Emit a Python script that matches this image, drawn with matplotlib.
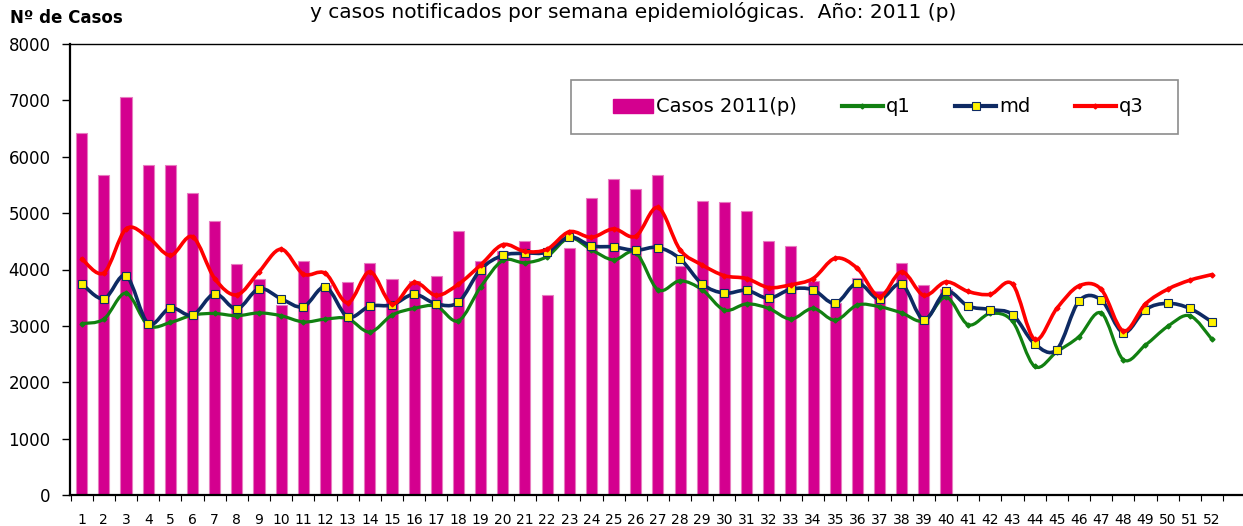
import numpy as np
import matplotlib
matplotlib.use("Agg")
import matplotlib.pyplot as plt
from matplotlib.path import Path
from matplotlib.patches import PathPatch, Rectangle, Patch
from matplotlib.lines import Line2D

# semanas epidemiologicas
weeks = list(range(1, 53))

# casos notificados 2011 (p), semanas 1-40
casos = [6420, 5680, 7060, 5860, 5860, 5350, 4860, 4090, 3840, 3370,
         4150, 3720, 3770, 4120, 3840, 3790, 3890, 4690, 4150, 4330,
         4500, 3540, 4390, 5260, 5600, 5420, 5670, 4060, 5210, 5190,
         5030, 4500, 4420, 3790, 3400, 3850, 3620, 4110, 3730, 3660]

q1 = [3040, 3120, 3580, 3010, 3060, 3190, 3220, 3180, 3230, 3180,
      3070, 3120, 3130, 2890, 3190, 3310, 3350, 3090, 3690, 4160,
      4120, 4230, 4560, 4350, 4170, 4300, 3640, 3800, 3640, 3280,
      3390, 3310, 3120, 3310, 3100, 3370, 3340, 3230, 3090, 3510,
      3020, 3220, 3080, 2280, 2540, 2810, 3230, 2400, 2660, 2990,
      3180, 2760]

md = [3750, 3480, 3890, 3040, 3320, 3190, 3570, 3300, 3660, 3480,
      3340, 3690, 3160, 3350, 3370, 3560, 3390, 3420, 4000, 4250,
      4290, 4310, 4580, 4420, 4400, 4340, 4390, 4190, 3740, 3580,
      3630, 3490, 3650, 3640, 3400, 3760, 3470, 3740, 3110, 3610,
      3350, 3290, 3200, 2680, 2580, 3440, 3460, 2880, 3290, 3400,
      3310, 3070]

q3 = [4190, 3940, 4720, 4570, 4250, 4580, 3840, 3550, 3960, 4360,
      3920, 3930, 3410, 3960, 3390, 3770, 3540, 3740, 4080, 4440,
      4320, 4360, 4670, 4570, 4720, 4590, 5100, 4350, 4080, 3890,
      3840, 3680, 3730, 3840, 4200, 4020, 3520, 3960, 3540, 3780,
      3610, 3560, 3740, 2760, 3310, 3710, 3650, 2910, 3390, 3650,
      3810, 3910]

ytick_vals = list(range(0, 8001, 1000))

title_txt = "y casos notificados por semana epidemiológicas.  Año: 2011 (p)"
ylabel_txt = "Nº de Casos"


def smooth_path(x, y):
    # curva tipo "linea suavizada" de Excel (Catmull-Rom -> Bezier)
    pts = np.column_stack([x, y]).astype(float)
    n = len(pts)
    verts = [pts[0]]
    codes = [Path.MOVETO]
    for i in range(n - 1):
        p0 = pts[max(i - 1, 0)]
        p1 = pts[i]
        p2 = pts[i + 1]
        p3 = pts[min(i + 2, n - 1)]
        verts += [p1 + (p2 - p0) / 6, p2 - (p3 - p1) / 6, p2]
        codes += [Path.CURVE4] * 3
    return Path(verts, codes)


plt.rcParams['font.family'] = ['DejaVu Sans']

W, H = 1243, 526
fig = plt.figure(figsize=(W / 100, H / 100), dpi=100)
ax = fig.add_axes([70 / W, 31 / H, 1173 / W, 451 / H])

bar_col = '#D4008F'
ax.bar(weeks[:len(casos)], casos, width=0.5, color=bar_col,
       edgecolor='#E77CC0', linewidth=0.8, zorder=2)

series = [
    (q1, '#118011', 2.3, dict(marker='D', markersize=2.5, markerfacecolor='#118011',
                              markeredgecolor='#118011')),
    (md, '#0E2A63', 2.6, dict(marker='s', markersize=5.5, markerfacecolor='#FFF200',
                              markeredgecolor='#0E2A63', markeredgewidth=0.8)),
    (q3, '#FF0000', 2.6, dict(marker='D', markersize=2.5, markerfacecolor='#FF0000',
                              markeredgecolor='#FF0000')),
]
for z, (vals, col, lw, mk) in enumerate(series):
    ax.add_patch(PathPatch(smooth_path(weeks, vals), fill=False, edgecolor=col,
                           linewidth=lw, capstyle='round', joinstyle='round',
                           zorder=3 + z))
    ax.plot(weeks, vals, linestyle='none', zorder=3.5 + z, **mk)

ax.set_xlim(0.472, 53.40)
ax.set_ylim(0, 8000)

ax.set_xticks(weeks)
ax.set_xticklabels([str(w) for w in weeks], fontsize=10)
ax.set_xticks(np.arange(0.5, 53, 1.0), minor=True)
ax.tick_params(axis='x', which='major', length=0, pad=13)
ax.tick_params(axis='x', which='minor', length=4, width=0.8, direction='out')
ax.set_yticks(ytick_vals)
ax.set_yticklabels([str(v) for v in ytick_vals], fontsize=12)
ax.tick_params(axis='y', length=6, width=1, direction='out', pad=8)

for s in ['left', 'bottom']:
    ax.spines[s].set_linewidth(1.6)
ax.spines['top'].set_linewidth(1.0)
ax.spines['right'].set_visible(False)

# leyenda con marco propio
x0, x1 = 571, 1178
y0, y1 = 80, 134
ax_x = lambda px: (px - 70) / 1173
ax_y = lambda py: (495 - py) / 451
ax.add_patch(Rectangle((ax_x(x0), ax_y(y1)), ax_x(x1) - ax_x(x0), ax_y(y0) - ax_y(y1),
                       transform=ax.transAxes, facecolor='white', edgecolor='#8C8C8C',
                       linewidth=1.2, zorder=10))
handles = [
    Patch(facecolor=bar_col, edgecolor=bar_col),
    Line2D([], [], color='#118011', lw=3, marker='D', markersize=2.5),
    Line2D([], [], color='#0E2A63', lw=3, marker='s', markersize=5.5,
           markerfacecolor='#FFF200', markeredgecolor='#0E2A63', markeredgewidth=0.8),
    Line2D([], [], color='#FF0000', lw=3, marker='D', markersize=2.5),
]
labels = ['Casos 2011(p)', 'q1', 'md', 'q3']
leg = ax.legend(handles, labels, loc='center',
                bbox_to_anchor=((ax_x(x0) + ax_x(x1)) / 2 + 0.003, (ax_y(y0) + ax_y(y1)) / 2),
                ncol=4, frameon=False, fontsize=14, handlelength=2.1,
                handletextpad=0.15, columnspacing=2.3)
leg.set_zorder(11)

fig.text(633 / W, 1 - 12 / H, title_txt, ha='center', va='center', fontsize=14.5)
fig.text(10 / W, 1 - 18 / H, ylabel_txt, ha='left', va='center', fontsize=12,
         fontweight='bold')

fig.savefig('out.png', dpi=100)
